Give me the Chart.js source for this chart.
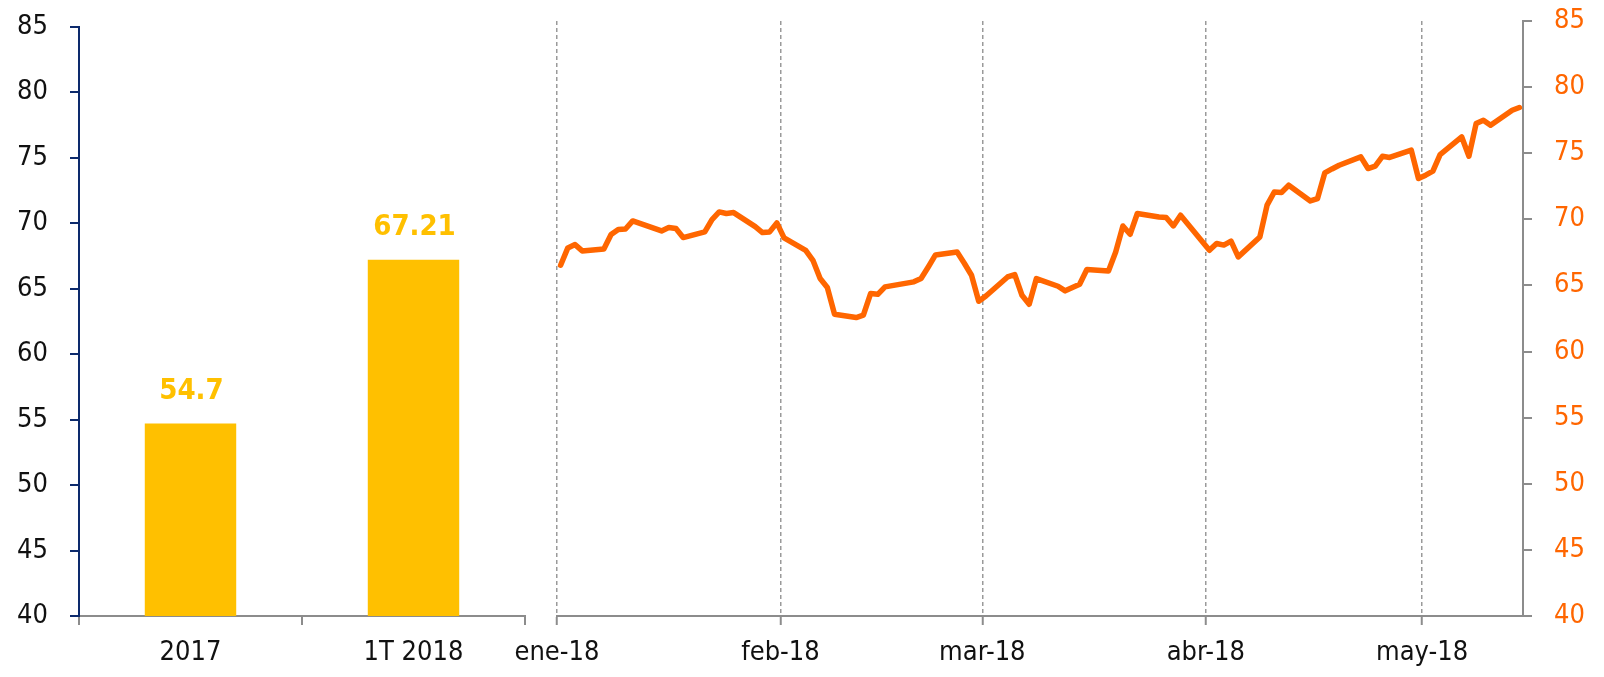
<!DOCTYPE html>
<html lang="es">
  <head>
    <meta charset="UTF-8" />
    <title>Brent: media anual y cotización diaria</title>
    <script src="https://cdn.jsdelivr.net/npm/chart.js"></script>
    <style>
      body {
        margin: 0;
        background: #fff;
      }
      .wrap {
        position: relative;
        width: 1604px;
        height: 677px;
      }
      canvas {
        position: absolute;
        top: 0;
      }
      #bars {
        left: 0;
      }
      #line {
        left: 480px;
      }
    </style>
  </head>
  <body>
    <div class="wrap">
      <canvas id="bars" width="540" height="677"></canvas>
      <canvas id="line" width="1124" height="677"></canvas>
    </div>

    <script>
      // media anual / trimestral
      const barLabels = ['2017', '1T 2018'];
      const barValues = [54.7, 67.21];

      // cotización diaria (días desde el 1 de enero de 2018)
      const brentDay = [
        1, 2, 3, 4, 7, 8, 9, 10, 11, 15, 16, 17, 18, 21, 22, 23, 24, 25, 28, 29, 30,
        31, 32, 35, 36, 37, 38, 39, 42, 43, 44, 45, 46, 50, 51, 52, 53, 56, 57, 58,
        59, 60, 63, 64, 65, 66, 67, 70, 71, 72, 73, 74, 77, 78, 79, 80, 81, 84, 85, 86, 87,
        91, 92, 93, 94, 95, 98, 99, 100, 101, 102, 105, 106, 107, 108, 109, 112, 113, 114, 115, 116, 119,
        120, 121, 122, 123, 126, 127, 128, 129, 130, 133, 134,
      ];
      const brentPrice = [
        66.53, 67.84, 68.09, 67.61, 67.76, 68.85, 69.23, 69.27, 69.88, 69.12, 69.38, 69.3, 68.62, 69.05, 69.98, 70.56, 70.44, 70.51, 69.45, 69.0, 69.05,
        69.73, 68.6, 67.66, 66.9, 65.52, 64.84, 62.82, 62.57, 62.75, 64.39, 64.33, 64.89, 65.27, 65.52, 66.4, 67.31, 67.53, 66.68, 65.77,
        63.8, 64.2, 65.64, 65.82, 64.26, 63.58, 65.52, 64.94, 64.59, 64.84, 65.09, 66.2, 66.1, 67.53, 69.5, 68.87, 70.44, 70.18, 70.14, 69.5, 70.31,
        67.66, 68.17, 68.05, 68.35, 67.16, 68.67, 71.07, 72.07, 72.03, 72.58, 71.39, 71.57, 73.51, 73.81, 74.09, 74.72, 73.84, 74.02, 74.77, 74.68, 75.23,
        73.09, 73.34, 73.64, 74.9, 76.23, 74.77, 77.25, 77.5, 77.12, 78.25, 78.46,
      ];

      const monthStart = [0, 31, 59, 90, 120];
      const monthLabels = ['ene-18', 'feb-18', 'mar-18', 'abr-18', 'may-18'];

      const yMin = 40;
      const yMax = 85;

      Chart.defaults.font.family = "'DejaVu Sans Condensed', 'DejaVu Sans', sans-serif";
      Chart.defaults.font.size = 27;
      Chart.defaults.color = '#111';
      Chart.defaults.animation = false;

      const navy = '#0d2a6c';
      const grey = '#8c8c8c';
      const yellow = '#ffc000';
      const orange = '#ff6600';

      // sin margen extra por las etiquetas: el área del gráfico se fija a mano
      const noPad = (s) => {
        s.paddingTop = 0;
        s.paddingBottom = 0;
        s.paddingLeft = 0;
        s.paddingRight = 0;
      };

      // etiquetas de valor sobre las barras
      const barValueLabels = {
        id: 'barValueLabels',
        afterDatasetsDraw(chart) {
          const ctx = chart.ctx;
          const meta = chart.getDatasetMeta(0);
          ctx.save();
          ctx.font = "bold 29px 'DejaVu Sans Condensed', 'DejaVu Sans', sans-serif";
          ctx.fillStyle = yellow;
          ctx.textAlign = 'center';
          ctx.textBaseline = 'middle';
          meta.data.forEach((bar, i) => {
            ctx.fillText(String(barValues[i]), bar.x + 1, bar.y - 32);
          });
          ctx.restore();
        },
      };

      new Chart(document.getElementById('bars'), {
        type: 'bar',
        data: {
          labels: barLabels,
          datasets: [
            {
              data: barValues,
              backgroundColor: yellow,
              categoryPercentage: 1,
              barPercentage: 0.41,
            },
          ],
        },
        options: {
          responsive: false,
          layout: { padding: { top: 27, right: 15, bottom: 0, left: 0 } },
          plugins: { legend: { display: false }, tooltip: { enabled: false } },
          scales: {
            x: {
              grid: {
                offset: true,
                drawOnChartArea: false,
                color: grey,
                lineWidth: 2,
                tickLength: 9,
              },
              border: { color: grey, width: 2 },
              ticks: { padding: 12 },
              afterFit: (s) => {
                s.height = 61;
                noPad(s);
              },
            },
            y: {
              min: yMin,
              max: yMax,
              ticks: { stepSize: 5, padding: 22 },
              grid: { drawOnChartArea: false, color: navy, lineWidth: 2, tickLength: 9 },
              border: { color: navy, width: 2 },
              afterFit: (s) => {
                s.width = 79;
                noPad(s);
              },
            },
          },
        },
        plugins: [barValueLabels],
      });

      new Chart(document.getElementById('line'), {
        type: 'line',
        data: {
          datasets: [
            {
              data: brentDay.map((d, i) => ({ x: d, y: brentPrice[i] })),
              borderColor: orange,
              borderWidth: 5.5,
              pointRadius: 0,
              tension: 0,
              borderJoinStyle: 'round',
              borderCapStyle: 'round',
            },
          ],
        },
        options: {
          responsive: false,
          layout: { padding: { top: 21, right: 0, bottom: 0, left: 77 } },
          plugins: { legend: { display: false }, tooltip: { enabled: false } },
          scales: {
            x: {
              type: 'linear',
              min: 0.5,
              max: 134.5,
              afterBuildTicks: (s) => {
                // líneas de mes a mitad del primer día, como en el original
                s.ticks = monthStart.map((d) => ({ value: d + 0.5 }));
              },
              ticks: {
                autoSkip: false,
                maxRotation: 0,
                padding: 12,
                callback: (v, i) => monthLabels[i],
              },
              grid: {
                color: '#9a9a9a',
                lineWidth: 1.5,
                tickLength: 9,
                tickColor: grey,
                tickWidth: 2,
                tickBorderDash: [],
              },
              border: { color: grey, width: 2, dash: [4, 3] },
              afterFit: (s) => {
                s.height = 61;
                noPad(s);
              },
            },
            y: {
              position: 'right',
              min: yMin,
              max: yMax,
              ticks: { stepSize: 5, padding: 22, color: orange },
              grid: { drawOnChartArea: false, color: grey, lineWidth: 2, tickLength: 9 },
              border: { color: grey, width: 2 },
              afterFit: (s) => {
                s.width = 81;
                noPad(s);
              },
            },
          },
        },
      });
    </script>
  </body>
</html>
